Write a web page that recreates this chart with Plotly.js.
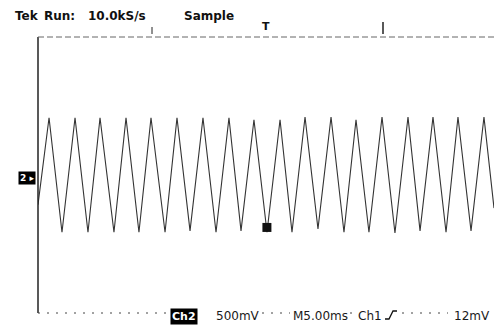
<!DOCTYPE html>
<html>
<head>
<meta charset="utf-8">
<script src="https://cdn.plot.ly/plotly-3.0.1.min.js"></script>
<style>html,body{margin:0;padding:0;background:#fff;}#chart{width:494px;height:328px;}</style>
</head>
<body>
<div id="chart"></div>
<script>
// Trace vertices (time in ms, 5 ms/div; voltage in V, 500 mV/div)
const time_ms = [0, 1.21, 2.63, 4.06, 5.48, 6.80, 8.33, 9.65, 11.07, 12.39, 13.93, 15.24, 16.67, 18.09, 19.52, 20.94, 22.26, 23.68, 25.11, 26.54, 27.85, 29.28, 30.70, 32.13, 33.55, 34.87, 36.29, 37.72, 39.14, 40.57, 41.89, 43.31, 44.74, 46.05, 47.48, 48.90, 50.00];
const volts = [-0.43, 0.83, -0.83, 0.83, -0.83, 0.83, -0.83, 0.83, -0.83, 0.83, -0.83, 0.83, -0.81, 0.83, -0.83, 0.83, -0.81, 0.80, -0.83, 0.80, -0.83, 0.84, -0.78, 0.84, -0.83, 0.80, -0.83, 0.84, -0.84, 0.84, -0.81, 0.84, -0.83, 0.84, -0.81, 0.84, -0.48];
const trigger_time = [25.1];
const trigger_volts = [-0.76];

const headerLabels = ["Tek", "Run:", "10.0kS/s", "Sample"];
const footerLabels = ["Ch2", "500mV", "M5.00ms", "Ch1", "12mV"];

const W = 494, H = 328, L = 38, T = 37, B = 15, R = 0;
const PW = W - L - R, PH = H - T - B;
const px = x => (x - L) / PW;
const py = y => (H - B - y) / PH;

const FAM = "DejaVu Sans, sans-serif";
const font = {family: FAM, size: 11, color: "#111"};
function ann(text, x, y, extra) {
  return Object.assign({text: text, xref: "paper", yref: "paper", x: px(x), y: py(y),
    xanchor: "left", yanchor: "middle", showarrow: false, font: font}, extra || {});
}
const hdr = {family: FAM, size: 12, color: "#111"};
const ftr = {family: FAM, size: 12, color: "#1a1a1a"};
const annotations = [
  ann("<b>" + headerLabels[0] + "</b>", 13, 16, {font: hdr}),
  ann("<b>" + headerLabels[1] + "</b>", 42, 16, {font: hdr}),
  ann("<b>" + headerLabels[2] + "</b>", 86, 16, {font: hdr}),
  ann("<b>" + headerLabels[3] + "</b>", 182, 16, {font: hdr}),
  ann("<b>" + footerLabels[0] + "</b>", 170, 316, {bgcolor: "#000", font: {family: FAM, size: 11, color: "#fff"}, borderpad: 1}),
  ann(footerLabels[1], 214, 316, {font: ftr}),
  ann(footerLabels[2], 291, 316, {font: ftr}),
  ann(footerLabels[3], 356, 316, {font: ftr}),
  ann(footerLabels[4], 452, 316, {font: ftr}),
  ann("<b>2 ▸</b>", 18, 178, {bgcolor: "#000", font: {family: FAM, size: 9, color: "#fff"}, borderpad: 1}),
  ann("<b>T</b>", 260, 26, {font: {family: FAM, size: 11, color: "#111"}})
];

function dots(a, b) {
  return {type: "line", xref: "paper", yref: "paper", x0: px(a), x1: px(b), y0: 0, y1: 0, line: {color: "#444", width: 1, dash: "2px,7px"}};
}
const shapes = [
  {type: "line", xref: "paper", yref: "paper", x0: 0, x1: 0, y0: 0, y1: 1, line: {color: "#222", width: 1.5}},
  {type: "line", xref: "paper", yref: "paper", x0: 0, x1: 1, y0: 1, y1: 1, line: {color: "#666", width: 1, dash: "6px,3px"}},
  dots(38, 168), dots(262, 290), dots(350, 356), dots(402, 448),
  {type: "line", xref: "paper", yref: "paper", x0: px(152), x1: px(152), y0: py(34), y1: py(27), line: {color: "#222", width: 1}},
  {type: "line", xref: "paper", yref: "paper", x0: px(383), x1: px(383), y0: py(34), y1: py(22), line: {color: "#222", width: 1.5}},
  {type: "path", xref: "paper", yref: "paper",
   path: "M " + px(385) + " " + py(319) + " L " + px(389) + " " + py(319) + " L " + px(393) + " " + py(311) + " L " + px(397) + " " + py(311),
   line: {color: "#111", width: 1.3}}
];

const data = [
  {x: time_ms, y: volts, type: "scatter", mode: "lines", line: {color: "#333", width: 1.1}, hoverinfo: "skip"},
  {x: trigger_time, y: trigger_volts, type: "scatter", mode: "markers", marker: {symbol: "square", size: 9, color: "#111"}, hoverinfo: "skip"}
];

const layout = {
  width: W, height: H,
  margin: {l: L, r: R, t: T, b: B, pad: 0},
  paper_bgcolor: "#fff", plot_bgcolor: "#fff",
  showlegend: false,
  xaxis: {range: [0, 50], showgrid: false, zeroline: false, showticklabels: false, ticks: "", showline: false},
  yaxis: {range: [-2, 2], showgrid: false, zeroline: false, showticklabels: false, ticks: "", showline: false},
  annotations: annotations,
  shapes: shapes
};

Plotly.newPlot("chart", data, layout, {staticPlot: true, displayModeBar: false});
</script>
</body>
</html>
